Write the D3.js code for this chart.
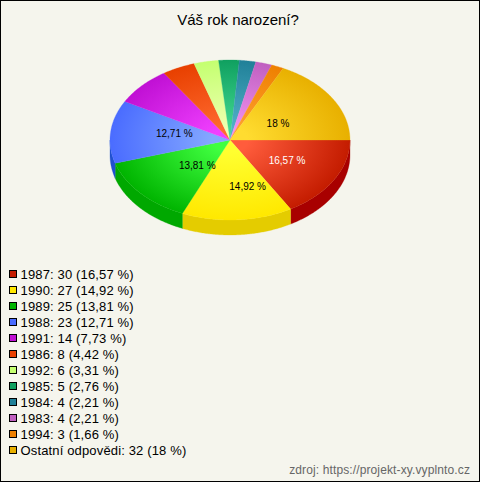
<!DOCTYPE html>
<html><head><meta charset="utf-8">
<script src="https://cdn.jsdelivr.net/npm/d3@7"></script>
<style>html,body{margin:0;padding:0;background:#f5f5ed}svg{display:block}text{font-family:"Liberation Sans",Arial,sans-serif}</style>
</head><body><svg id="c" width="480" height="482"></svg>
<script>
const title = "Váš rok narození?";
const source = "zdroj: https://projekt-xy.vyplnto.cz";
const categories = ["1987","1990","1989","1988","1991","1986","1992","1985","1984","1983","1994","Ostatní odpovědi"];
const counts = [30,27,25,23,14,8,6,5,4,4,3,32];
const shareLabels = ["16,57","14,92","13,81","12,71","7,73","4,42","3,31","2,76","2,21","2,21","1,66","18"];
const edgeColors = ["#c41c00","#ffe800","#00b400","#4a6cff","#c010d4","#e84000","#c4ff70","#10a060","#208098","#c060c0","#ee8000","#e8b000"];
const centerColors = ["#ff5c3c","#ffff30","#40ff40","#84a8ff","#f040ff","#ff6a30","#eeffb0","#40d890","#50b0c8","#f090f0","#ffa030","#ffdc30"];
const sideColors = ["#a80000","#e4cc00","#00a800","#2050d0","#a000b0","#c03000","#a0d050","#008040","#006080","#a040a0","#c06000","#c09000"];
const labelled = [true,true,true,true,false,false,false,false,false,false,false,true];
const labelNudge = [[5,0],[14,6],[12,-2],[4,-3],[0,0],[0,0],[0,0],[0,0],[0,0],[0,0],[0,0],[-3,4]];

const W=480,H=482,cx=230,cy=140,rx=120,ry=80,depth=15;
const svg=d3.select("#c");
svg.append("rect").attr("x",.5).attr("y",.5).attr("width",W-1).attr("height",H-1).attr("fill","#f5f5ed").attr("stroke","#000");
svg.append("text").attr("x",238).attr("y",25).attr("text-anchor","middle").attr("font-size",15).attr("fill","#000").text(title);

const pie=d3.pie().sort(null).value(d=>d).startAngle(0).endAngle(2*Math.PI)(counts);
// angle: clockwise from east on the ellipse
const px=d3.scaleLinear().domain([-1,1]).range([cx-rx,cx+rx]);
const py=d3.scaleLinear().domain([-1,1]).range([cy-ry,cy+ry]);
const defs=svg.append("defs");
pie.forEach((s,i)=>{
  const g=defs.append("radialGradient").attr("id","g"+i).attr("gradientUnits","userSpaceOnUse")
    .attr("cx",0).attr("cy",0).attr("r",1)
    .attr("gradientTransform",`translate(${cx},${cy}) scale(${rx},${ry})`);
  g.append("stop").attr("offset",.15).attr("stop-color",centerColors[i]);
  g.append("stop").attr("offset",1).attr("stop-color",edgeColors[i]);
});
// side wall
const sideG=svg.append("g");
pie.forEach((s,i)=>{
  const a0=Math.max(s.startAngle,0),a1=Math.min(s.endAngle,Math.PI);
  if(a1<=a0)return;
  const t=d3.range(a0,a1,0.01).concat([a1]);
  const upper=t.map(a=>[px(Math.cos(a)),py(Math.sin(a))]);
  const lower=t.slice().reverse().map(a=>[px(Math.cos(a)),py(Math.sin(a))+depth]);
  sideG.append("path").attr("d",d3.line()(upper.concat(lower))+"Z").attr("fill",sideColors[i]).attr("stroke",sideColors[i]).attr("stroke-width",.3);
});
// top slices
const topG=svg.append("g");
pie.forEach((s,i)=>{
  const t=d3.range(s.startAngle,s.endAngle,0.01).concat([s.endAngle]);
  const pts=[[cx,cy]].concat(t.map(a=>[px(Math.cos(a)),py(Math.sin(a))]));
  topG.append("path").attr("d",d3.line()(pts)+"Z").attr("fill",`url(#g${i})`).attr("stroke",`url(#g${i})`).attr("stroke-width",.3);
});
// labels
pie.forEach((s,i)=>{
  if(!labelled[i])return;
  const m=(s.startAngle+s.endAngle)/2;
  svg.append("text").attr("x",px(.5*Math.cos(m))+labelNudge[i][0]).attr("y",py(.5*Math.sin(m))+labelNudge[i][1]+4)
   .attr("text-anchor","middle").attr("font-size",10)
   .attr("fill",i===0?"#fff":"#000").text(shareLabels[i]+" %");
});
// legend
const rowY=d3.scaleLinear().domain([0,1]).range([274,290]);
categories.forEach((c,i)=>{
  const y=rowY(i);
  svg.append("rect").attr("x",9.5).attr("y",y-3.5).attr("width",7).attr("height",7).attr("fill",edgeColors[i]).attr("stroke","#000");
  svg.append("text").attr("x",20.5).attr("y",y+5).attr("font-size",13).attr("letter-spacing",.15).attr("fill","#000")
    .text(`${c}: ${counts[i]} (${shareLabels[i]} %)`);
});
svg.append("text").attr("x",470).attr("y",474).attr("text-anchor","end").attr("font-size",12).attr("letter-spacing",.12).attr("fill","#666").text(source);
</script></body></html>
